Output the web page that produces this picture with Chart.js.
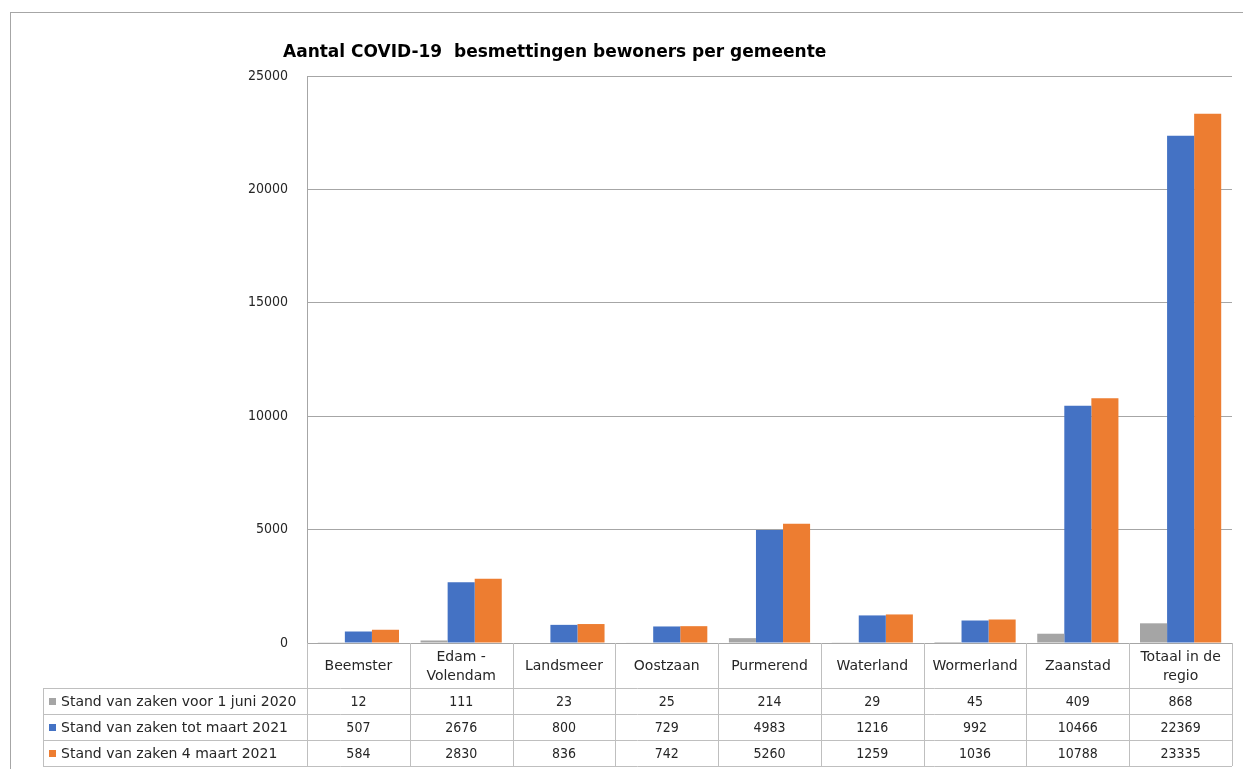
<!DOCTYPE html>
<html>
<head>
<meta charset="utf-8">
<script src="https://cdn.jsdelivr.net/npm/chart.js@4.4.0/dist/chart.umd.min.js"></script>
<style>
  body { margin: 0; background: #fff; }
  #wrap { width: 1243px; height: 769px; position: relative; }
</style>
</head>
<body>
<div id="wrap"><canvas id="covidChart"></canvas></div>
<script>
// Gemeenten en waarden
const categories = [['Beemster'], ['Edam -', 'Volendam'], ['Landsmeer'], ['Oostzaan'], ['Purmerend'],
    ['Waterland'], ['Wormerland'], ['Zaanstad'], ['Totaal in de', 'regio']];
const seriesNames = ['Stand van zaken voor 1 juni 2020', 'Stand van zaken tot maart 2021', 'Stand van zaken 4 maart 2021'];
const juni2020 = [12, 111, 23, 25, 214, 29, 45, 409, 868];
const totMaart2021 = [507, 2676, 800, 729, 4983, 1216, 992, 10466, 22369];
const maart4_2021 = [584, 2830, 836, 742, 5260, 1259, 1036, 10788, 23335];
const yTicks = [0, 5000, 10000, 15000, 20000, 25000];
const colors = ['#A5A5A5', '#4472C4', '#ED7D31'];

const FONT = 'DejaVu Sans';
const NUMFONT = '"DejaVu Sans Condensed", "DejaVu Sans"';
const TEXT = '#262626';
const LINE = '#BFBFBF';

// Draws title, outer border and the data table under the chart
const tablePlugin = {
    id: 'dataTable',
    afterDraw(chart) {
        const ctx = chart.ctx;
        const area = chart.chartArea;
        const xs = chart.scales.x;
        const colW = (area.right - area.left) / categories.length;
        const rowTop = area.bottom;
        const headerBottom = 688;
        const rowH = 26;
        const tableLeft = 43;
        const tableBottom = headerBottom + rowH * 3;

        ctx.save();
        // outer border (right and bottom edges fall outside the picture)
        ctx.strokeStyle = '#A6A6A6';
        ctx.lineWidth = 1;
        ctx.strokeRect(10.5, 12.5, 1300, 800);

        // title
        ctx.fillStyle = '#000';
        ctx.font = 'bold 17px ' + FONT;
        ctx.textAlign = 'left';
        ctx.textBaseline = 'middle';
        ctx.fillText('Aantal COVID-19  besmettingen bewoners per gemeente', 283, 53);

        // table lines
        ctx.strokeStyle = LINE;
        ctx.beginPath();
        for (let i = 0; i <= categories.length; i++) {
            const x = Math.round(area.left + i * colW) + 0.5;
            ctx.moveTo(x, rowTop);
            ctx.lineTo(x, tableBottom);
        }
        for (let r = 0; r <= 3; r++) {
            const y = headerBottom + r * rowH + 0.5;
            ctx.moveTo(tableLeft, y);
            ctx.lineTo(area.right, y);
        }
        ctx.moveTo(tableLeft + 0.5, headerBottom);
        ctx.lineTo(tableLeft + 0.5, tableBottom);
        ctx.stroke();

        // header: category names
        ctx.fillStyle = TEXT;
        ctx.font = '14px ' + FONT;
        ctx.textAlign = 'center';
        categories.forEach((lines, i) => {
            const cx = xs.getPixelForValue(i);
            const mid = (rowTop + headerBottom) / 2 + 1;
            lines.forEach((t, j) => {
                ctx.fillText(t, cx, mid + (j - (lines.length - 1) / 2) * 19);
            });
        });

        // data rows
        const rows = [juni2020, totMaart2021, maart4_2021];
        rows.forEach((vals, r) => {
            const cy = headerBottom + r * rowH + rowH / 2 + 1;
            ctx.fillStyle = colors[r];
            ctx.fillRect(49, cy - 4, 7, 7);
            ctx.fillStyle = TEXT;
            ctx.textAlign = 'left';
            ctx.font = '14px ' + FONT;
            ctx.fillText(seriesNames[r], 61, cy);
            ctx.textAlign = 'center';
            ctx.font = '14px ' + NUMFONT;
            vals.forEach((v, i) => {
                ctx.fillText(String(v), xs.getPixelForValue(i), cy);
            });
        });
        ctx.restore();
    }
};

const ctx = document.getElementById('covidChart').getContext('2d');
window.myChart = new Chart(ctx, {
    type: 'bar',
    data: {
        labels: categories.map(c => c.join(' ')),
        datasets: [
            { label: seriesNames[0], data: juni2020, backgroundColor: colors[0] },
            { label: seriesNames[1], data: totMaart2021, backgroundColor: colors[1] },
            { label: seriesNames[2], data: maart4_2021, backgroundColor: colors[2] }
        ]
    },
    options: {
        responsive: true,
        maintainAspectRatio: false,
        animation: false,
        datasets: {
            bar: { categoryPercentage: 0.79, barPercentage: 1.0 }
        },
        layout: { padding: { top: 76, right: 11, bottom: 126, left: 0 } },
        plugins: {
            legend: { display: false },
            title: { display: false },
            tooltip: { enabled: false }
        },
        scales: {
            x: { display: false },
            y: {
                min: 0,
                max: 25000,
                afterFit(axis) { axis.width = 307; },
                afterBuildTicks(axis) { axis.ticks = yTicks.map(v => ({ value: v })); },
                ticks: {
                    padding: 19,
                    color: TEXT,
                    font: { family: NUMFONT, size: 14 },
                    callback: v => String(v)
                },
                grid: { color: '#A6A6A6', drawTicks: false },
                border: { display: true, color: '#A6A6A6' }
            }
        }
    },
    plugins: [tablePlugin]
});
</script>
</body>
</html>
